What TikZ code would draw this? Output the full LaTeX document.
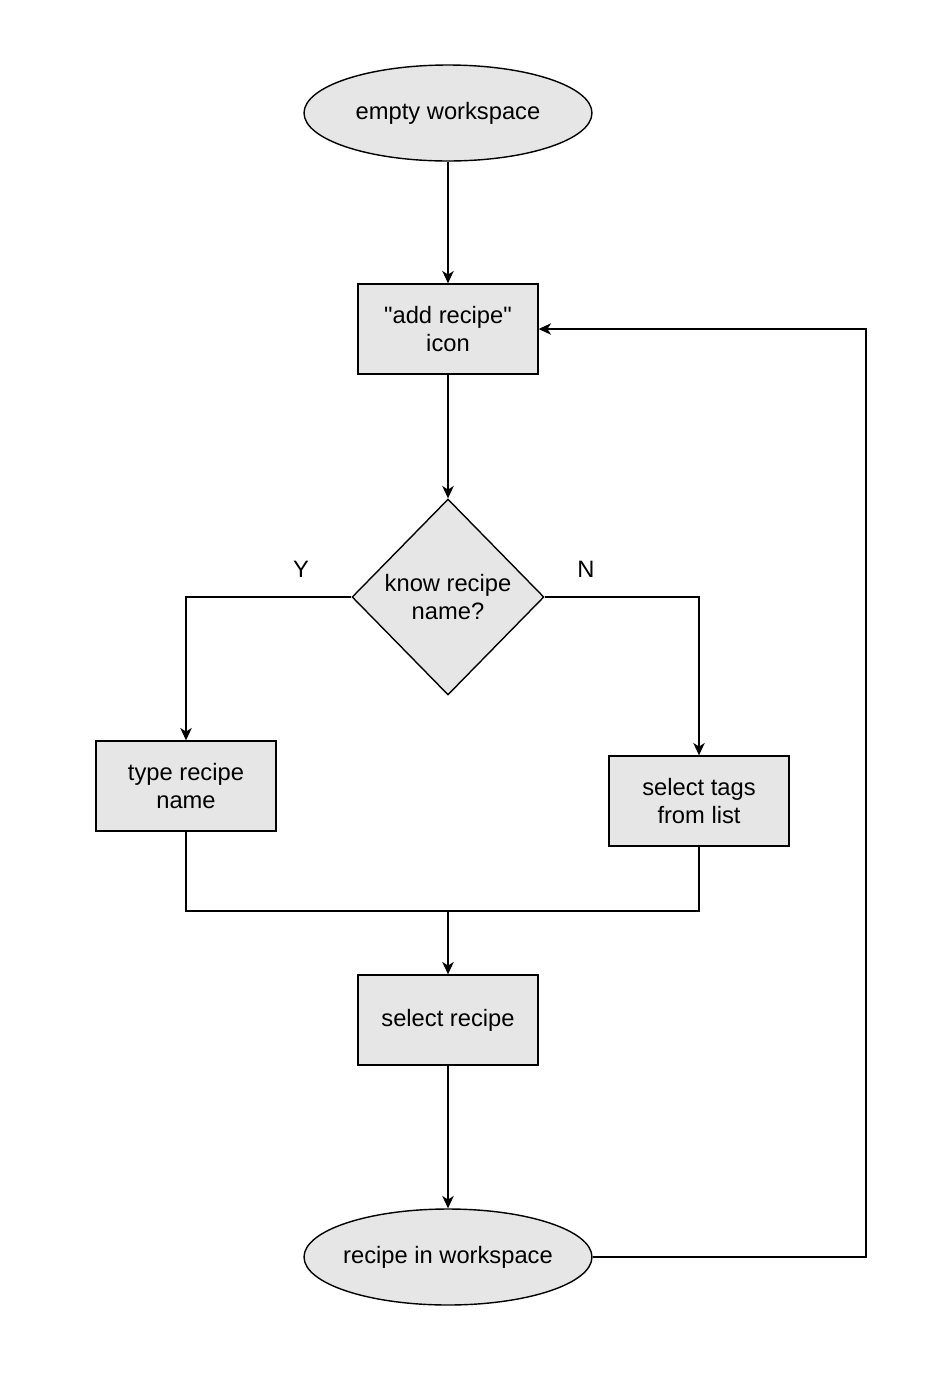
\documentclass[tikz,border=0pt]{standalone}
\usepackage{fontspec}
\setmainfont{Liberation Sans}
\newfontfamily\flowfont{Liberation Sans}
\usetikzlibrary{arrows.meta,shapes.geometric}

\definecolor{boxgray}{HTML}{E6E6E6}

\tikzset{
  box/.style={draw, fill=boxgray, minimum width=3.6cm, minimum height=1.8cm, align=center, inner sep=0pt},
  term/.style={draw, ellipse, fill=boxgray, minimum width=5.76cm, minimum height=1.92cm, inner ysep=0pt, inner xsep=-0.15cm},
  decide/.style={draw, diamond, fill=boxgray, minimum width=3.84cm, minimum height=3.92cm, inner sep=0pt, align=center},
  flow/.style={-{Stealth[length=7pt, width=6.5pt, inset=2pt]}}
}

\begin{document}
\begin{tikzpicture}[x=0.02cm, y=-0.02cm, line width=0.8pt, font=\flowfont\fontsize{13.5}{16.4}\selectfont]

\useasboundingbox (0,0) rectangle (945,1373);

% Start and end
\node[term] (start) at (448,113) {empty workspace};
\node[term] (done) at (448,1257) {recipe in workspace};

% Steps
\node[box] (add) at (448,329) {"add recipe"\\icon};
\node[box] (type) at (186,786) {type recipe\\name};
\node[box] (tags) at (699,801) {select tags\\from list};
\node[box] (pick) at (448,1020) {select recipe};

% Decision
\node[decide] (know) at (448,597) {know recipe\\name?};
\node (lblY) at (301,569) {Y};
\node (lblN) at (586,569) {N};

% Main flow
\draw[flow] (start) -- (add);
\draw[flow] (add) -- (know);
\draw[flow] (know.west) -| (type);
\draw[flow] (know.east) -| (tags);

% Merge the two branches
\coordinate (join) at (448,911);
\draw (type.south) |- (join) -| (tags.south);
\draw[flow] (join) -- (pick);
\draw[flow] (pick) -- (done);

% Back to the icon
\coordinate (back) at (866,0);
\draw[flow] (done.east) -- (done.east -| back) |- (add.east);

\end{tikzpicture}
\end{document}
